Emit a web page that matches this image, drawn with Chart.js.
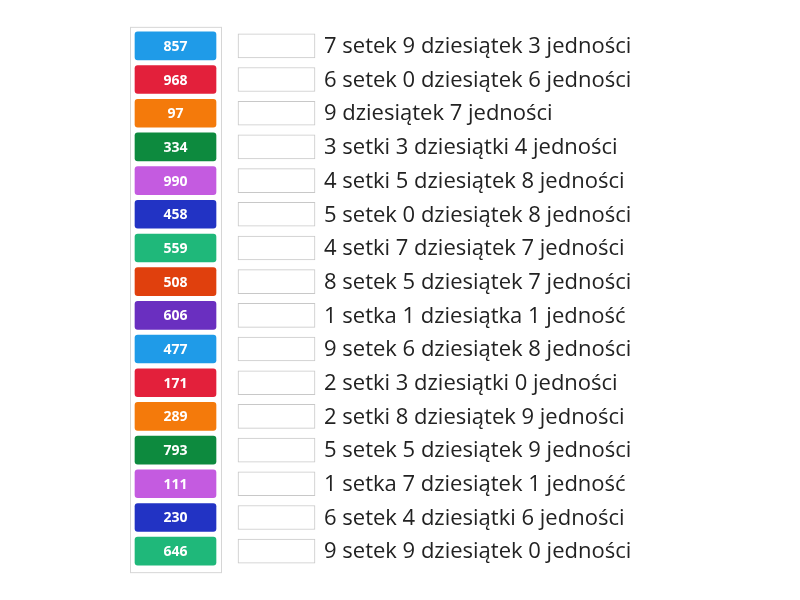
<!DOCTYPE html>
<html>
<head>
  <meta charset="UTF-8" />
  <title>Dopasuj liczby</title>
  <style>body{margin:0;background:#fff}</style>
</head>
<body>
  <canvas id="c" width="800" height="600"></canvas>
  <script src="https://cdn.jsdelivr.net/npm/chart.js"></script>
  <script>
    const numbers = ['857','968','97','334','990','458','559','508','606','477','171','289','793','111','230','646'];
    const phrases = [
      '7 setek 9 dziesiątek 3 jedności',
      '6 setek 0 dziesiątek 6 jedności',
      '9 dziesiątek 7 jedności',
      '3 setki 3 dziesiątki 4 jedności',
      '4 setki 5 dziesiątek 8 jedności',
      '5 setek 0 dziesiątek 8 jedności',
      '4 setki 7 dziesiątek 7 jedności',
      '8 setek 5 dziesiątek 7 jedności',
      '1 setka 1 dziesiątka 1 jedność',
      '9 setek 6 dziesiątek 8 jedności',
      '2 setki 3 dziesiątki 0 jedności',
      '2 setki 8 dziesiątek 9 jedności',
      '5 setek 5 dziesiątek 9 jedności',
      '1 setka 7 dziesiątek 1 jedność',
      '6 setek 4 dziesiątki 6 jedności',
      '9 setek 9 dziesiątek 0 jedności'
    ];
    const colors = ['#1f9be8','#e3203b','#f47a0b','#0d8a3e','#c45be0','#2233c4','#1fb87a','#e0400d',
                    '#6a2fc0','#1f9be8','#e3203b','#f47a0b','#0d8a3e','#c45be0','#2233c4','#1fb87a'];

    const labelPlugin = {
      id: 'labels',
      beforeDatasetsDraw(chart) {
        const ctx = chart.ctx, y = chart.scales.y, x = chart.scales.x;
        const top = y.getPixelForValue(0) - 19, bottom = y.getPixelForValue(numbers.length - 1) + 21;
        ctx.save();
        ctx.strokeStyle = '#d6d6d6';
        ctx.lineWidth = 1;
        ctx.strokeRect(x.getPixelForValue(130) + 0.5, top + 0.5, x.getPixelForValue(221) - x.getPixelForValue(130), bottom - top);
        ctx.restore();
      },
      afterDatasetsDraw(chart) {
        const ctx = chart.ctx, y = chart.scales.y, x = chart.scales.x;
        ctx.save();
        ctx.textBaseline = 'middle';
        numbers.forEach((n, i) => {
          const py = y.getPixelForValue(i);
          ctx.fillStyle = '#fff';
          ctx.font = 'bold 14px "Open Sans"';
          ctx.textAlign = 'center';
          ctx.fillText(n, x.getPixelForValue(175.5), py + 1);
          ctx.fillStyle = '#222';
          ctx.font = '22px "Open Sans"';
          ctx.textAlign = 'left';
          ctx.fillText(phrases[i], x.getPixelForValue(324), py + 1);
        });
        ctx.restore();
      }
    };

    new Chart(document.getElementById('c'), {
      type: 'bar',
      data: {
        labels: numbers,
        datasets: [
          {
            data: numbers.map(() => [135, 216]),
            backgroundColor: colors,
            borderRadius: 3,
            borderSkipped: false,
            barThickness: 28,
            grouped: false
          },
          {
            data: numbers.map(() => [238, 315]),
            backgroundColor: '#fff',
            borderColor: '#c8c8c8',
            borderWidth: 1,
            borderSkipped: false,
            barThickness: 24,
            grouped: false
          }
        ]
      },
      options: {
        indexAxis: 'y',
        responsive: false,
        animation: false,
        layout: { padding: { top: 29, bottom: 32, left: 0, right: 0 } },
        plugins: { legend: { display: false }, tooltip: { enabled: false } },
        scales: {
          x: { type: 'linear', min: 0, max: 800, display: false },
          y: { display: false, offset: true }
        }
      },
      plugins: [labelPlugin]
    });
  </script>
</body>
</html>
